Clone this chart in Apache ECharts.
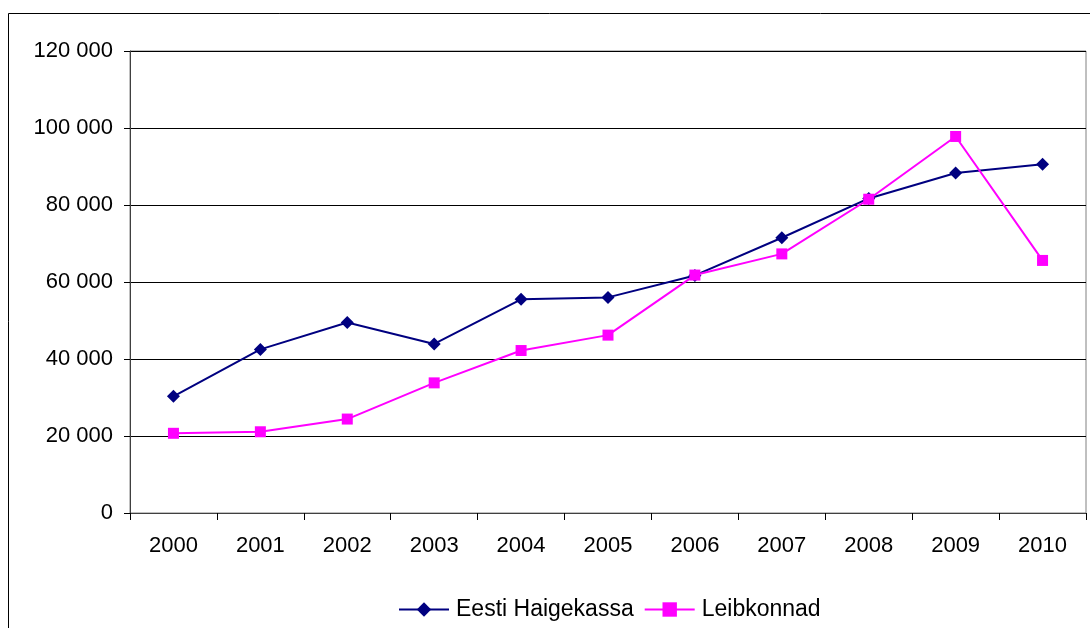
<!DOCTYPE html>
<html>
<head>
<meta charset="utf-8">
<script src="https://cdn.jsdelivr.net/npm/echarts@6/dist/echarts.min.js"></script>
<style>
html,body{margin:0;padding:0;background:#fff;}
#chart{width:1090px;height:628px;}
</style>
</head>
<body>
<div id="chart"></div>
<script>
const years = ['2000','2001','2002','2003','2004','2005','2006','2007','2008','2009','2010'];
const haigekassa = [30300, 42500, 49500, 43900, 55500, 56000, 61700, 71500, 81700, 88300, 90600];
const leibkonnad = [20700, 21100, 24400, 33800, 42200, 46200, 61800, 67300, 81500, 97800, 65600];
const seriesNames = ['Eesti Haigekassa', 'Leibkonnad'];

const FONT = 'Liberation Sans, Arial, sans-serif';
const chart = echarts.init(document.getElementById('chart'), null, {renderer: 'canvas'});
chart.setOption({
  animation: false,
  backgroundColor: '#fff',
  graphic: [{
    type: 'rect',
    shape: {x: 8.5, y: 13.5, width: 1200, height: 800},
    style: {fill: 'none', stroke: '#000', lineWidth: 1},
    silent: true, z: -1
  }],
  grid: {
    left: 130, right: 4, top: 51, bottom: 115,
    show: true, borderColor: '#808080', borderWidth: 1, backgroundColor: 'transparent'
  },
  legend: {
    left: 398, top: 598, padding: 0,
    itemWidth: 50, itemHeight: 18, itemGap: 10,
    textStyle: {fontFamily: FONT, fontSize: 23, color: '#000', padding: [0, 0, 0, 2]},
    data: seriesNames
  },
  xAxis: {
    type: 'category',
    data: years,
    boundaryGap: true,
    axisLine: {lineStyle: {color: '#404040', width: 1}},
    axisTick: {show: true, length: 7, lineStyle: {color: '#000'}},
    axisLabel: {fontFamily: FONT, fontSize: 22, color: '#000', margin: 22}
  },
  yAxis: {
    type: 'value',
    min: 0, max: 120000, interval: 20000,
    axisLine: {show: true, lineStyle: {color: '#404040', width: 1}},
    axisTick: {show: true, length: 6, lineStyle: {color: '#000'}},
    splitLine: {lineStyle: {color: '#000', width: 1}},
    axisLabel: {
      fontFamily: FONT, fontSize: 22, color: '#000', margin: 17,
      formatter: v => v === 0 ? '0' : String(v).replace(/\B(?=(\d{3})+(?!\d))/g, ' ')
    }
  },
  series: [
    {
      name: seriesNames[0], type: 'line', data: haigekassa,
      symbol: 'diamond', symbolSize: 13,
      lineStyle: {color: '#000080', width: 2},
      itemStyle: {color: '#000080'},
      z: 3
    },
    {
      name: seriesNames[1], type: 'line', data: leibkonnad,
      symbol: 'rect', symbolSize: 11,
      lineStyle: {color: '#FF00FF', width: 2},
      itemStyle: {color: '#FF00FF'},
      z: 4
    }
  ]
});
</script>
</body>
</html>
